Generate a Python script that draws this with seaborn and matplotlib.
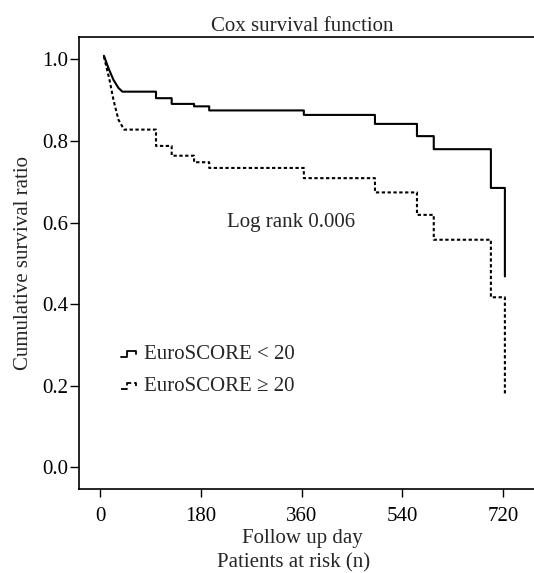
import numpy as np
import pandas as pd
import matplotlib
matplotlib.use("Agg")
import matplotlib.pyplot as plt
import seaborn as sns
from matplotlib.lines import Line2D
from matplotlib.legend_handler import HandlerLine2D

# early (smooth) part of the curves
early_days_low = [7, 15, 24, 33, 40]
early_surv_low = [1.009, 0.979, 0.950, 0.930, 0.921]
early_days_high = [7, 17, 24, 33, 43]
early_surv_high = [1.007, 0.950, 0.901, 0.852, 0.828]

# later step drops (same event days for both groups)
step_days = [100, 128, 168, 195, 364, 491, 566, 596, 698, 723]
step_surv_low = [0.905, 0.891, 0.885, 0.875, 0.864, 0.842, 0.812, 0.780, 0.685, 0.468]
step_surv_high = [0.788, 0.764, 0.748, 0.734, 0.709, 0.674, 0.619, 0.558, 0.417, 0.181]

groups = ["EuroSCORE < 20", "EuroSCORE \u2265 20"]
x_ticks = [0, 180, 360, 540, 720]
y_ticks = [0.0, 0.2, 0.4, 0.6, 0.8, 1.0]
log_rank_text = "Log rank 0.006"


def build_curve(days0, surv0, days, surv, label):
    xs = list(days0)
    ys = list(surv0)
    prev = ys[-1]
    for d, s in zip(days, surv):
        xs += [d, d]
        ys += [prev, s]
        prev = s
    return pd.DataFrame({"day": xs, "surv": ys, "group": label, "order": range(len(xs))})


df = pd.concat([
    build_curve(early_days_low, early_surv_low, step_days, step_surv_low, groups[0]),
    build_curve(early_days_high, early_surv_high, step_days, step_surv_high, groups[1]),
], ignore_index=True)

FS = 15

sns.set_style("ticks")
plt.rcParams["font.family"] = ["Liberation Serif", "DejaVu Serif"]
plt.rcParams["font.size"] = FS

fig = plt.figure(figsize=(5.34, 5.73), dpi=100)
ax = fig.add_axes([79 / 534, 84 / 573, 1 - 79 / 534, (489 - 37) / 573])

styles = {groups[0]: "-", groups[1]: (0, (1.6, 1.2))}
for g in groups:
    sub = df[df["group"] == g]
    sns.lineplot(data=sub, x="day", y="surv", sort=False, estimator=None,
                 color="black", linewidth=1.5, linestyle=styles[g], ax=ax)

ax.set_xlim(-37.5, 775)
ax.set_ylim(-0.053, 1.055)
ax.set_xticks(x_ticks)
ax.set_xticklabels([str(t) for t in x_ticks])
ax.set_yticks(y_ticks)
ax.set_yticklabels([f"{t:.1f}" for t in y_ticks])
ax.tick_params(axis="x", direction="out", length=6, width=1, pad=7, labelsize=FS, colors="black")
ax.tick_params(axis="y", direction="out", length=6.5, width=1, pad=1.5, labelsize=FS, colors="black")

for side in ["left", "bottom", "top"]:
    ax.spines[side].set_color("black")
    ax.spines[side].set_linewidth(1.2)
ax.spines["right"].set_visible(False)

ax.set_title("Cox survival function", fontsize=FS, pad=4, x=0.49)
ax.set_xlabel("Follow up day", fontsize=FS)
ax.xaxis.set_label_coords(0.49, -0.088)
ax.set_ylabel("Cumulative survival ratio", fontsize=FS, labelpad=6)
fig.text(294 / 534, 1 - 563 / 573, "Patients at risk (n)", ha="center", va="center", fontsize=FS)

ax.text(341, 0.60, log_rank_text, ha="center", va="center", fontsize=FS)


class StepHandler(HandlerLine2D):
    def create_artists(self, legend, orig_handle, xdescent, ydescent, width, height, fontsize, trans):
        xs = np.array([0, 0.4, 0.4, 1.0, 1.0]) * width - xdescent
        ys = np.array([0.15, 0.15, 0.6, 0.6, 0.35]) * height - ydescent
        line = Line2D(xs, ys, color="black", linestyle=orig_handle.get_linestyle(),
                      linewidth=orig_handle.get_linewidth())
        line.set_transform(trans)
        return [line]


handles = [Line2D([], [], color="black", linestyle="-", linewidth=1.3),
           Line2D([], [], color="black", linestyle=(0, (1.2, 1.0)), linewidth=1.3)]
ax.legend(handles, groups, loc="center left", bbox_to_anchor=(0.074, 0.262),
          frameon=False, fontsize=FS, handlelength=0.7, handletextpad=0.4,
          labelspacing=0.6, borderaxespad=0,
          handler_map={Line2D: StepHandler()})

fig.savefig("out.png", dpi=100)
